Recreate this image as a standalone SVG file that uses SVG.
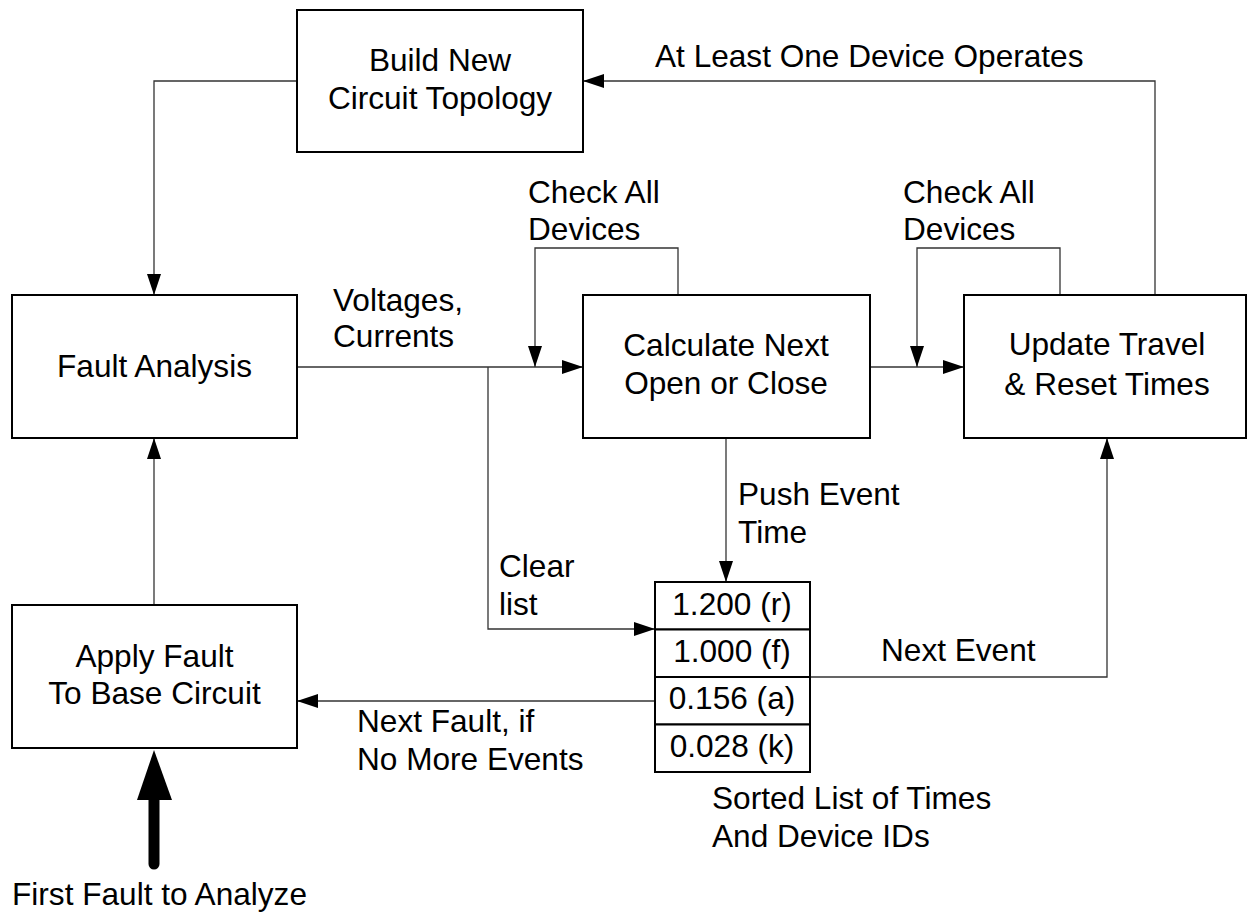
<svg xmlns="http://www.w3.org/2000/svg" width="1248" height="914" viewBox="0 0 1248 914">
  <style>
    text { font-family: "Liberation Sans", Arial, sans-serif; font-size: 31.6px; fill: #000; }
    .box { fill: #fff; stroke: #000; stroke-width: 2; }
    .mid { text-anchor: middle; }
    .wire { fill: none; stroke: #333; stroke-width: 1.3; }
  </style>
  <defs>
    <marker id="arrow" markerWidth="21" markerHeight="14" refX="21" refY="7" orient="auto" markerUnits="userSpaceOnUse">
      <path d="M0,0 L21,7 L0,14 Z" fill="#000"/>
    </marker>
  </defs>
  <rect width="1248" height="914" fill="#fff"/>

  <!-- connectors -->
  <g id="connectors">
    <path class="wire" d="M297,81 H154 V295" marker-end="url(#arrow)"/>
    <path class="wire" d="M297,367 H583" marker-end="url(#arrow)"/>
    <path class="wire" d="M678,295 V248 H535 V367" marker-end="url(#arrow)"/>
    <path class="wire" d="M870,367 H964" marker-end="url(#arrow)"/>
    <path class="wire" d="M1060,295 V248 H917 V367" marker-end="url(#arrow)"/>
    <path class="wire" d="M1155,295 V81 H583" marker-end="url(#arrow)"/>
    <path class="wire" d="M488,367 V629 H655" marker-end="url(#arrow)"/>
    <path class="wire" d="M726,438 V582" marker-end="url(#arrow)"/>
    <path class="wire" d="M810,677 H1107 V438" marker-end="url(#arrow)"/>
    <path class="wire" d="M655,701 H297" marker-end="url(#arrow)"/>
    <path class="wire" d="M154,605 V438" marker-end="url(#arrow)"/>
    <!-- heavy entry arrow -->
    <line x1="154" y1="864" x2="154" y2="795" stroke="#000" stroke-width="11" stroke-linecap="round"/>
    <path d="M137,800 L154,750 L172,800 Z" fill="#000"/>
  </g>

  <!-- connector labels -->
  <g id="labels">
    <text x="333" y="311">Voltages,</text>
    <text x="333" y="347">Currents</text>
    <text x="528" y="203">Check All</text>
    <text x="528" y="240">Devices</text>
    <text x="903" y="203">Check All</text>
    <text x="903" y="240">Devices</text>
    <text x="655" y="67">At Least One Device Operates</text>
    <text x="738" y="505">Push Event</text>
    <text x="738" y="543">Time</text>
    <text x="499" y="577">Clear</text>
    <text x="499" y="615">list</text>
    <text x="881" y="661">Next Event</text>
    <text x="357" y="732">Next Fault, if</text>
    <text x="357" y="770">No More Events</text>
    <text x="712" y="809">Sorted List of Times</text>
    <text x="712" y="847">And Device IDs</text>
    <text x="12" y="905">First Fault to Analyze</text>
  </g>

  <g id="build">
    <rect class="box" x="297" y="10" width="286" height="142"/>
    <text class="mid" x="440" y="71">Build New</text>
    <text class="mid" x="440" y="109">Circuit Topology</text>
  </g>

  <g id="fault-analysis">
    <rect class="box" x="12" y="295" width="285" height="143"/>
    <text class="mid" x="154.5" y="377">Fault Analysis</text>
  </g>

  <g id="calculate">
    <rect class="box" x="583" y="295" width="287" height="143"/>
    <text class="mid" x="726" y="356">Calculate Next</text>
    <text class="mid" x="726" y="394">Open or Close</text>
  </g>

  <g id="update">
    <rect class="box" x="964" y="295" width="282" height="143"/>
    <text class="mid" x="1107" y="355">Update Travel</text>
    <text class="mid" x="1107" y="395">&amp; Reset Times</text>
  </g>

  <g id="apply">
    <rect class="box" x="12" y="605" width="285" height="143"/>
    <text class="mid" x="154.5" y="667">Apply Fault</text>
    <text class="mid" x="154.5" y="704">To Base Circuit</text>
  </g>

  <g id="event-list">
    <rect class="box" x="655" y="582" width="155" height="47.5"/>
    <rect class="box" x="655" y="629.5" width="155" height="47.5"/>
    <rect class="box" x="655" y="677" width="155" height="47.5"/>
    <rect class="box" x="655" y="724.5" width="155" height="47.5"/>
    <text class="mid" x="732" y="615">1.200 (r)</text>
    <text class="mid" x="732" y="662">1.000 (f)</text>
    <text class="mid" x="732" y="709">0.156 (a)</text>
    <text class="mid" x="732" y="757">0.028 (k)</text>
  </g>
</svg>
